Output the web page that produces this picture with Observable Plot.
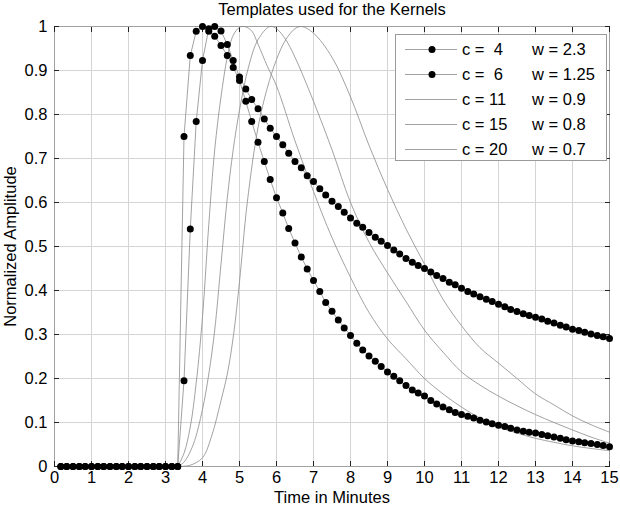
<!DOCTYPE html>
<html><head><meta charset="utf-8">
<script src="https://cdn.jsdelivr.net/npm/d3@7"></script>
<script src="https://cdn.jsdelivr.net/npm/@observablehq/plot@0.6"></script>
<style>
html,body{margin:0;padding:0;background:#fff;}
#wrap{position:relative;width:620px;height:509px;overflow:hidden;font-family:"Liberation Sans",Arial,sans-serif;}
#wrap svg text{white-space:pre;}
#legend{position:absolute;left:395px;top:34px;}
</style>
</head><body><div id="wrap"></div>
<script>
// ---- data ----
const chartTitle = "Templates used for the Kernels";
const xLabel = "Time in Minutes";
const yLabel = "Normalized Amplitude";
const xTicks = [0,1,2,3,4,5,6,7,8,9,10,11,12,13,14,15];
const yTicks = [0,0.1,0.2,0.3,0.4,0.5,0.6,0.7,0.8,0.9,1];

// sample times (minutes) of the dotted templates, every 10 s
const sampleTimes = [0.17,0.33,0.5,0.67,0.83,1,1.17,1.33,1.5,1.67,1.83,2,2.17,2.33,2.5,2.67,2.83,3,3.17,3.33,
 3.5,3.67,3.83,4,4.17,4.33,4.5,4.67,4.83,5,5.17,5.33,5.5,5.67,5.83,6,6.17,6.33,6.5,6.67,6.83,7,7.17,7.33,7.5,7.67,7.83,8,
 8.17,8.33,8.5,8.67,8.83,9,9.17,9.33,9.5,9.67,9.83,10,10.17,10.33,10.5,10.67,10.83,11,11.17,11.33,11.5,11.67,11.83,12,
 12.17,12.33,12.5,12.67,12.83,13,13.17,13.33,13.5,13.67,13.83,14,14.17,14.33,14.5,14.67,14.83,15];

// c = 4, w = 2.3 (fast decay)
const kernelFast = [0,0,0,0,0,0,0,0,0,0,0,0,0,0,0,0,0,0,0,0,
 0.75,0.934,0.989,1.0,0.989,0.978,0.957,0.934,0.907,0.877,0.830,0.784,0.737,0.693,0.652,0.611,0.576,0.541,0.508,0.476,
 0.449,0.423,0.398,0.373,0.353,0.333,0.315,0.298,0.280,0.265,0.251,0.239,0.227,0.215,0.205,0.195,0.184,0.174,0.167,0.160,
 0.150,0.142,0.135,0.129,0.123,0.118,0.114,0.110,0.105,0.101,0.097,0.094,0.091,0.087,0.083,0.080,0.078,0.076,0.073,0.070,
 0.067,0.064,0.061,0.058,0.056,0.054,0.052,0.050,0.048,0.045];

// c = 6, w = 1.25 (slow decay)
const kernelSlow = [0,0,0,0,0,0,0,0,0,0,0,0,0,0,0,0,0,0,0,0,
 0.195,0.54,0.784,0.923,0.995,1.0,0.99,0.959,0.923,0.885,0.858,0.834,0.813,0.79,0.769,0.75,0.731,0.712,0.693,0.679,
 0.661,0.648,0.631,0.617,0.603,0.591,0.578,0.565,0.553,0.544,0.532,0.521,0.512,0.502,0.492,0.483,0.473,0.464,0.457,0.450,
 0.442,0.434,0.427,0.419,0.413,0.405,0.398,0.392,0.386,0.380,0.375,0.369,0.363,0.357,0.352,0.347,0.343,0.339,0.335,0.330,
 0.326,0.321,0.317,0.312,0.309,0.305,0.301,0.298,0.295,0.291];

// thin templates: times and values
const c11Times = [3.33,3.5,3.67,3.83,4,4.17,4.33,4.5,4.67,4.83,5,5.13,5.33,5.5,5.75,6,6.5,7,7.5,8,8.5,9,9.5,10,10.5,11,11.5,12,12.5,13,13.5,14,14.5,15];
const c11Vals  = [0,0.03,0.09,0.19,0.34,0.55,0.72,0.84,0.93,0.98,0.998,1,0.99,0.96,0.91,0.865,0.74,0.625,0.52,0.43,0.35,0.29,0.245,0.2,0.165,0.135,0.11,0.09,0.076,0.064,0.055,0.047,0.041,0.036];
const c15Times = [3.33,3.5,3.75,4,4.17,4.33,4.5,4.67,4.83,5,5.25,5.5,5.82,6,6.25,6.5,7,7.5,8,8.5,9,9.5,10,10.5,11,11.5,12,12.5,13,13.5,14,14.5,15];
const c15Vals  = [0,0.01,0.05,0.13,0.21,0.31,0.46,0.61,0.72,0.81,0.91,0.97,1,0.995,0.97,0.93,0.83,0.72,0.6,0.51,0.44,0.375,0.31,0.26,0.215,0.185,0.16,0.138,0.118,0.1,0.083,0.067,0.053];
const c20Times = [3.33,3.67,4,4.25,4.5,4.67,4.84,5,5.21,5.5,5.75,6,6.25,6.5,6.68,7,7.5,8,8.5,9,9.5,10,10.5,11,11.5,12,12.5,13,13.5,14,14.5,15];
const c20Vals  = [0,0.003,0.02,0.07,0.15,0.21,0.3,0.42,0.6,0.77,0.86,0.925,0.97,0.995,1,0.985,0.93,0.84,0.73,0.63,0.54,0.46,0.38,0.32,0.27,0.235,0.2,0.165,0.14,0.115,0.095,0.078];

const legendRows = [
  {c:"c =  4", w:"w = 2.3", dot:true},
  {c:"c =  6", w:"w = 1.25", dot:true},
  {c:"c = 11", w:"w = 0.9", dot:false},
  {c:"c = 15", w:"w = 0.8", dot:false},
  {c:"c = 20", w:"w = 0.7", dot:false}
];

// ---- tables ----
const fast = sampleTimes.map((t,i)=>({t, v:kernelFast[i]}));
const slow = sampleTimes.map((t,i)=>({t, v:kernelSlow[i]}));
const thin = [
  ...c11Times.map((t,i)=>({t, v:c11Vals[i], k:"c11"})),
  ...c15Times.map((t,i)=>({t, v:c15Vals[i], k:"c15"})),
  ...c20Times.map((t,i)=>({t, v:c20Vals[i], k:"c20"}))
];

const lineColor = "#8a8a8a";
const gridColor = "#d4d4d4";
const fs = 16.5;

const chart = Plot.plot({
  width: 620, height: 509,
  marginLeft: 54, marginRight: 11, marginTop: 26, marginBottom: 43,
  style: {fontFamily: "'Liberation Sans', Arial, sans-serif", fontSize: fs + "px", color: "#000", background: "#fff"},
  x: {domain: [0,15]},
  y: {domain: [0,1]},
  marks: [
    Plot.gridX(xTicks, {stroke: gridColor, strokeOpacity: 1}),
    Plot.gridY(yTicks, {stroke: gridColor, strokeOpacity: 1}),
    Plot.frame({stroke: "#a0a0a0"}),
    Plot.axisX(xTicks, {anchor: "bottom", tickSize: -5, tickFormat: () => "", stroke: "#222", label: null}),
    Plot.axisX(xTicks, {anchor: "top", tickSize: -5, tickFormat: () => "", stroke: "#222", label: null}),
    Plot.axisY(yTicks, {anchor: "left", tickSize: -5, tickFormat: () => "", stroke: "#222", label: null}),
    Plot.axisY(yTicks, {anchor: "right", tickSize: -5, tickFormat: () => "", stroke: "#222", label: null}),
    Plot.axisX(xTicks, {anchor: "bottom", tickSize: 0, tickPadding: 5, tickFormat: d => String(d), fontSize: fs,
      label: xLabel, labelAnchor: "center", labelOffset: 36, labelArrow: "none"}),
    Plot.axisY(yTicks, {anchor: "left", tickSize: 0, tickPadding: 7, tickFormat: d => String(d), fontSize: fs,
      label: yLabel, labelAnchor: "center", labelOffset: 50, labelArrow: "none"}),
    Plot.line(thin, {x: "t", y: "v", z: "k", stroke: lineColor, strokeWidth: 0.8, curve: "catmull-rom"}),
    Plot.line(fast, {x: "t", y: "v", stroke: lineColor, strokeWidth: 0.8}),
    Plot.line(slow, {x: "t", y: "v", stroke: lineColor, strokeWidth: 0.8}),
    Plot.dot(fast, {x: "t", y: "v", r: 3.5, fill: "#000", stroke: null}),
    Plot.dot(slow, {x: "t", y: "v", r: 3.5, fill: "#000", stroke: null}),
    Plot.text([chartTitle], {frameAnchor: "top", dy: -23, fontSize: fs, text: d => d})
  ]
});
document.getElementById("wrap").appendChild(chart);

// ---- legend ----
const lg = d3.select("#wrap").append("svg").attr("id","legend")
  .attr("width", 212).attr("height", 127)
  .style("font-family", "'Liberation Sans', Arial, sans-serif").style("font-size", fs + "px");
lg.append("rect").attr("x",0.5).attr("y",0.5).attr("width",211).attr("height",126)
  .attr("fill","#fff").attr("stroke","#9a9a9a");
const rows = lg.selectAll("g").data(legendRows).join("g")
  .attr("transform", (d,i) => `translate(0,${15.5 + i*25})`);
rows.append("line").attr("x1",10).attr("x2",62).attr("y1",0).attr("y2",0)
  .attr("stroke", lineColor).attr("stroke-width", 0.8);
rows.filter(d => d.dot).append("circle").attr("cx",37).attr("cy",0).attr("r",3.5).attr("fill","#000");
rows.append("text").attr("x",67).attr("y",0).attr("dy","0.36em").style("white-space","pre").text(d => d.c);
rows.append("text").attr("x",137).attr("y",0).attr("dy","0.36em").style("white-space","pre").text(d => d.w);
</script></body></html>
